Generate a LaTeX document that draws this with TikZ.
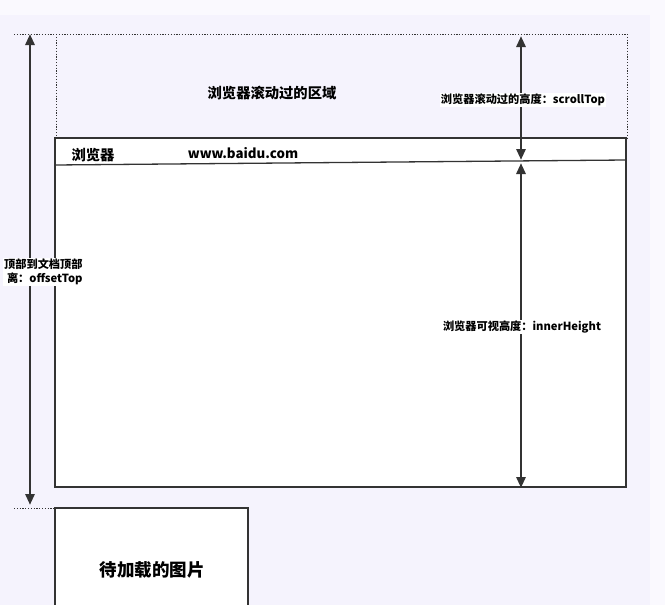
\documentclass[tikz,border=0pt]{standalone}
\usepackage{fontspec}
\setmainfont{Noto Sans CJK SC}
\usetikzlibrary{arrows.meta}
\definecolor{ink}{HTML}{333333}
\definecolor{pagebg}{HTML}{F5F3FD}
\definecolor{outerbg}{HTML}{FAF9FE}
\tikzset{
  ln/.style={draw=ink,line width=1.3pt},
  dots/.style={draw=ink,dash pattern=on 1.2pt off 1.6pt,line width=1pt},
  dim/.style={draw=ink,line width=2.8pt,{Triangle[length=11pt,width=9pt]}-{Triangle[length=11pt,width=9pt]}},
  lbl/.style={fill=white,inner sep=1.2pt,font=\fontsize{11.2}{13.5}\selectfont\bfseries,align=center},
  title/.style={inner sep=0pt,font=\fontsize{14.3}{16}\selectfont\bfseries}
}
\begin{document}
\begin{tikzpicture}[x=1pt,y=-1pt]
      % background
      \fill[outerbg] (0,0) rectangle (665,605);
      \fill[pagebg] (0,15) rectangle (650,605);
      \useasboundingbox (0,0) rectangle (665,605);
      % scrolled area
      \draw[dots] (14,34) -- (627,34);
      \draw[dots] (56,34) -- (56,138);
      \draw[dots] (627,34) -- (627,138);
      \node[title] (area) at (272,93) {浏览器滚动过的区域};
      % browser window
      \draw[ln,fill=white] (55,138) rectangle (626,487);
      \draw[ln] (55,165) -- (626,160);
      \node[title] (brw) at (93,155) {浏览器};
      \node[title,font=\fontsize{13.3}{15}\selectfont\bfseries] (url) at (243,153) {www.baidu.com};
      % image to load
      \draw[dots] (14,508) -- (55,508);
      \draw[ln,fill=white] (55,508) -- (248,508) -- (248,610) -- (55,610) -- cycle;
      \node[title,font=\fontsize{17.5}{19}\selectfont\bfseries] (img) at (152,570) {待加载的图片};
      % offsetTop
      \coordinate (ot) at (30,34);
      \coordinate (ob) at (30,505);
      \draw[dim] (ot) -- (ob);
      \node[lbl,anchor=east,align=right] (off) at (84,272) {顶部到文档顶部\\离：offsetTop};
      % scrollTop
      \coordinate (st) at (521,36);
      \coordinate (sb) at (521,160);
      \draw[dim] (st) -- (sb);
      \node[lbl] (scr) at (523,100) {浏览器滚动过的高度：scrollTop};
      % innerHeight
      \coordinate (it) at (521,163);
      \coordinate (ib) at (521,488);
      \draw[dim] (it) -- (ib);
      \node[lbl] (inn) at (522,327) {浏览器可视高度：innerHeight};
    \end{tikzpicture}
\end{document}
